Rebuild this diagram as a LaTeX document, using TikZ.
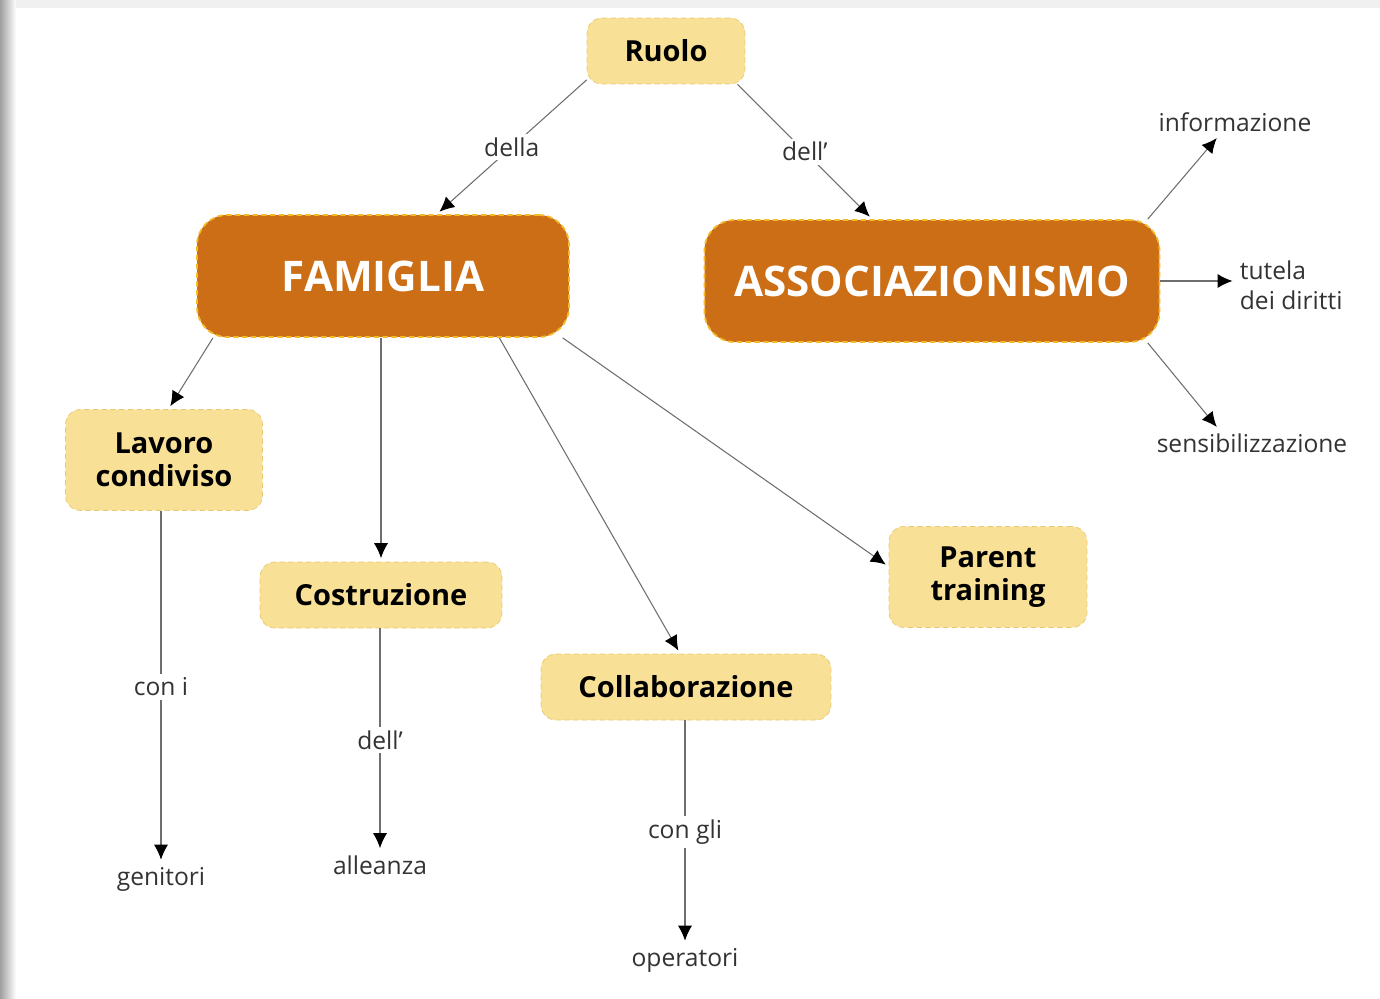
\documentclass[tikz,border=0pt]{standalone}
\usepackage{fontspec}
\setmainfont{Open Sans}
\usepackage{tikz}
\usetikzlibrary{arrows.meta}
\definecolor{wheat}{RGB}{248, 225, 150}
\definecolor{wheatline}{RGB}{232, 200, 112}
\definecolor{ochre}{RGB}{204, 110, 22}
\definecolor{goldline}{RGB}{244, 186, 40}
\definecolor{inkgray}{RGB}{51, 51, 51}
\definecolor{wiregray}{RGB}{110, 110, 110}
\tikzset{
  topic/.style={draw=wheatline, densely dashed, fill=wheat, rounded corners=0.3cm,
                text=black, font=\fontsize{16.5}{19}\selectfont\bfseries, align=center, inner sep=0pt},
  hub/.style={draw=goldline, densely dashed, line width=1pt, fill=ochre, rounded corners=0.6cm,
              text=white, font=\fontsize{24}{28}\selectfont\bfseries, inner sep=0pt,
              minimum height=2.44cm},
  leaf/.style={text=inkgray, font=\fontsize{14}{17}\selectfont, inner sep=2pt},
  lbl/.style={fill=white, text=inkgray, font=\fontsize{14}{17}\selectfont, inner sep=2pt},
  arr/.style={draw=wiregray, line width=0.6pt, shorten >=2pt,
              -{Latex[length=8.5pt,width=8pt,color=black]}}
}

\begin{document}
\begin{tikzpicture}[x=0.02cm, y=-0.02cm]
        \useasboundingbox (0,0) rectangle (1380,998);
        \fill[white]                                              (0,0) rectangle (1380,998);
        \shade[left color=gray!75, right color=white]             (0,0) rectangle (16,998);
        \fill[gray!12]                                            (16,0) rectangle (1380,8);

        \node[topic, minimum width=3.16cm, minimum height=1.32cm] (ruolo)    at (666,51)  {Ruolo};
        \node[hub,   minimum width=7.44cm]                        (famiglia) at (383,276) {FAMIGLIA};
        \node[hub,   minimum width=9.10cm]                        (assoc)    at (932,281) {ASSOCIAZIONISMO};
        \node[topic, minimum width=3.94cm, minimum height=2.02cm] (lavoro)   at (164,460) {Lavoro\\condiviso};
        \node[topic, minimum width=4.84cm, minimum height=1.32cm] (costr)    at (381,595) {Costruzione};
        \node[topic, minimum width=5.80cm, minimum height=1.32cm] (collab)   at (686,687) {Collaborazione};
        \node[topic, minimum width=3.96cm, minimum height=2.02cm] (parent)   at (988,577) {Parent\\training};

        \node[leaf]                           (info)     at (1235,122) {informazione};
        \node[leaf, anchor=west, align=left]  (tutela)   at (1236,285) {tutela\\dei diritti};
        \node[leaf]                           (sensib)   at (1252,443) {sensibilizzazione};
        \node[leaf]                           (genitori) at (161,879)  {genitori};
        \node[leaf]                           (alleanza) at (380,865)  {alleanza};
        \node[leaf]                           (operat)   at (685,960)  {operatori};

        \draw[arr] (ruolo.200) -- node[lbl] {della} (famiglia.49);
        \draw[arr] (ruolo.-25) -- node[lbl] {dell’}  (assoc.134);

        \draw[arr] (famiglia.200)                    -- (lavoro.85);
        \draw[arr] (costr.north |- famiglia.south)   -- (costr.north);
        \draw[arr] (famiglia.-28)                    -- (collab.100);
        \draw[arr] (famiglia.-19)                    -- (parent.174);

        \draw[arr] (assoc.16)                        -- (info.-140);
        \draw[arr] (assoc.east)                      -- (assoc.east -| tutela.west);
        \draw[arr] (assoc.-16.5)                     -- (sensib.158);

        \draw[arr] (genitori.north |- lavoro.south)  -- node[lbl] {con i}   (genitori.north);
        \draw[arr] (alleanza.north |- costr.south)   -- node[lbl] {dell’}   (alleanza.north);
        \draw[arr] (operat.north |- collab.south)    -- node[lbl] {con gli} (operat.north);
\end{tikzpicture}
\end{document}
